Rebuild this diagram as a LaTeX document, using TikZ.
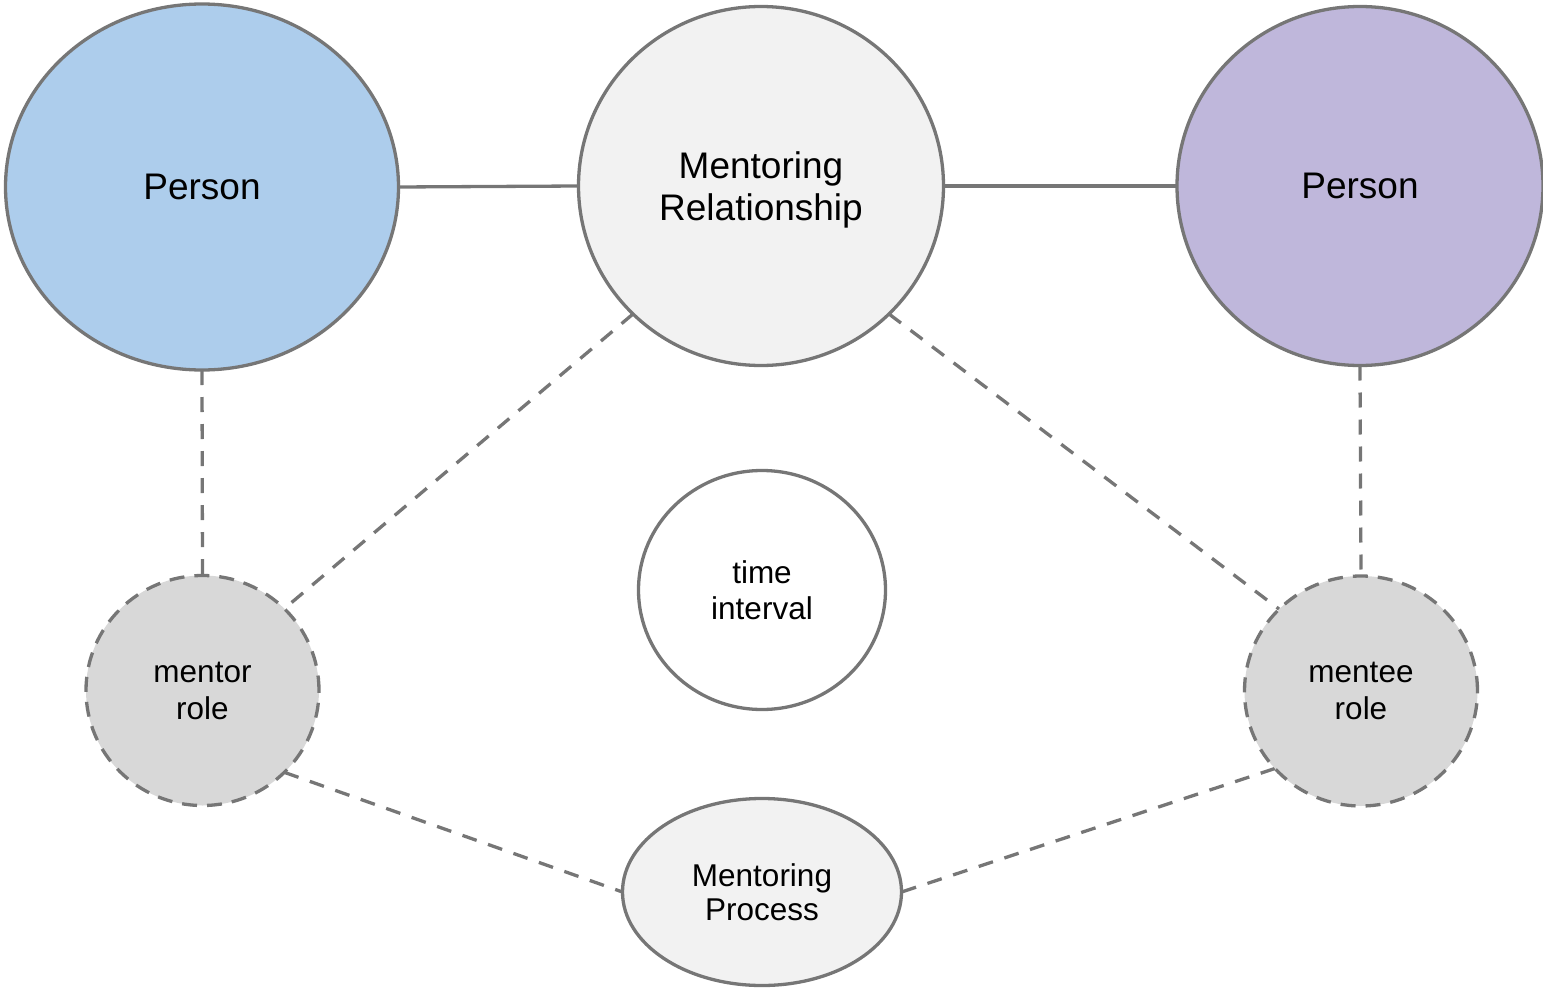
\documentclass[tikz,border=0pt]{standalone}
\usepackage{fontspec}
\setmainfont{Liberation Sans}
\usetikzlibrary{shapes.geometric,backgrounds}
\definecolor{personblue}{RGB}{173,205,236}
\definecolor{personpurple}{RGB}{191,183,219}
\definecolor{relfill}{RGB}{242,242,242}
\definecolor{rolefill}{RGB}{216,216,216}
\definecolor{edgegray}{RGB}{118,118,118}
\begin{document}
\begin{tikzpicture}[x=1pt,y=-1pt,
  blob/.style={ellipse, draw=edgegray, line width=3.3pt, inner sep=0pt,
    outer sep=0pt, align=center, text depth=0pt},
  bigtext/.style={font=\fontsize{37}{42}\selectfont},
  smalltext/.style={font=\fontsize{31.5}{36.7}\selectfont},
  solidline/.style={draw=edgegray, line width=3.3pt},
  dashline/.style={draw=edgegray, line width=3.3pt, dash pattern=on 15pt off 12pt},
  rolebox/.style={blob, fill=rolefill, smalltext, dash pattern=on 15pt off 10pt,
    minimum width=233pt, minimum height=230pt}
]
\useasboundingbox (0,0) rectangle (1543,990);

% people and the relationship between them
\node[blob, bigtext, fill=personblue, minimum width=393pt, minimum height=366pt,
  text depth=-2pt] (mentorperson) at (202,187) {Person};
\node[blob, bigtext, fill=relfill, minimum width=365pt, minimum height=359pt,
  text depth=-4pt] (relation) at (761,186) {Mentoring\\Relationship};
\node[blob, bigtext, fill=personpurple, minimum width=366pt, minimum height=359pt,
  text depth=-2pt] (menteeperson) at (1360,186) {Person};

% roles, time and process
\node[blob, smalltext, fill=white, minimum width=247pt, minimum height=239pt,
  text depth=-7pt] (interval) at (762,590) {time\\interval};
\node[rolebox, text depth=-7.5pt] (mentorrole) at (202.5,690.5) {mentor\\role};
\node[rolebox, text depth=-7.5pt] (menteerole) at (1361,691) {mentee\\role};
\node[blob, fill=relfill, font=\fontsize{31.5}{34}\selectfont,
  minimum width=279pt, minimum height=187pt, text depth=-15pt]
  (process) at (762,892) {Mentoring\\Process};

% connectors
\begin{scope}[on background layer]
  \draw[solidline] (mentorperson.east) -- (relation.west);
  \draw[solidline] (relation.east) -- (menteeperson.west);
  \draw[dashline] (mentorperson.south) -- (mentorrole.north);
  \draw[dashline] (menteeperson.south) -- (menteerole.north);
  \draw[dashline] (relation.225) -- (mentorrole.45);
  \draw[dashline] (relation.315) -- (menteerole.135);
  \draw[dashline] (mentorrole.315) -- (process.west);
  \draw[dashline] (menteerole.222) -- (process.east);
\end{scope}
\end{tikzpicture}
\end{document}
